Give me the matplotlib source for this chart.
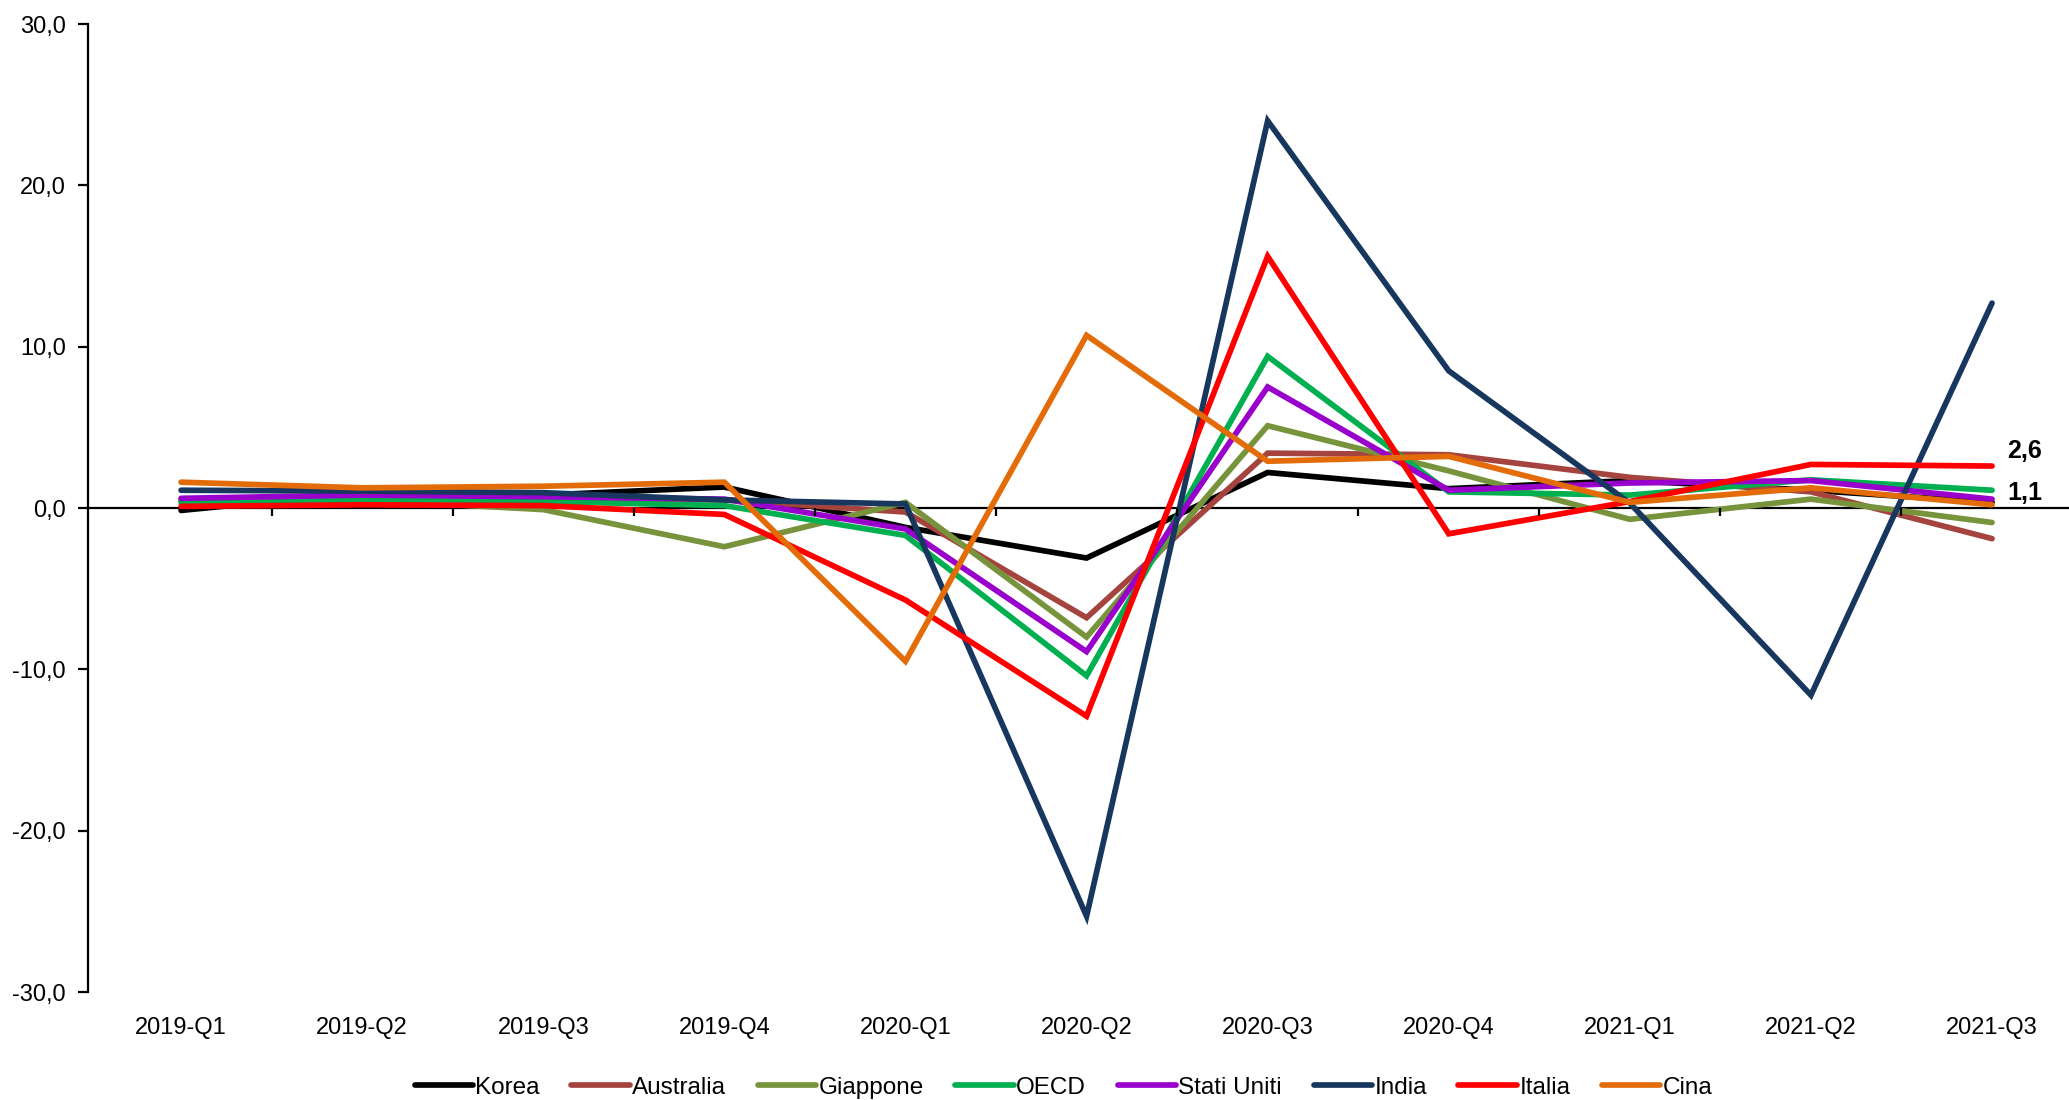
import matplotlib.pyplot as plt
import numpy as np

plt.rcParams['font.family'] = ['Liberation Sans', 'DejaVu Sans']

quarters = ["2019-Q1", "2019-Q2", "2019-Q3", "2019-Q4", "2020-Q1", "2020-Q2",
            "2020-Q3", "2020-Q4", "2021-Q1", "2021-Q2", "2021-Q3"]

korea      = [-0.15, 0.95, 0.8, 1.3, -1.2, -3.1, 2.2, 1.2, 1.7, 1.1, 0.35]
australia  = [0.5, 0.7, 0.6, 0.5, -0.25, -6.8, 3.4, 3.3, 1.9, 1.0, -1.9]
giappone   = [0.4, 0.5, -0.1, -2.4, 0.35, -8.0, 5.1, 2.3, -0.7, 0.55, -0.9]
oecd       = [0.35, 0.5, 0.4, 0.15, -1.7, -10.4, 9.4, 1.0, 0.8, 1.75, 1.1]
stati_uniti = [0.6, 0.8, 0.7, 0.55, -1.3, -8.9, 7.5, 1.1, 1.55, 1.7, 0.55]
india      = [1.1, 1.05, 0.95, 0.5, 0.25, -25.3, 24.0, 8.5, 0.3, -11.6, 12.7]
italia     = [0.1, 0.2, 0.15, -0.4, -5.7, -12.9, 15.6, -1.6, 0.4, 2.7, 2.6]
cina       = [1.6, 1.25, 1.35, 1.6, -9.5, 10.7, 2.9, 3.2, 0.35, 1.25, 0.2]

series = [
    ("Korea", korea, "#000000"),
    ("Australia", australia, "#A5443F"),
    ("Giappone", giappone, "#77933C"),
    ("OECD", oecd, "#00B050"),
    ("Stati Uniti", stati_uniti, "#9900CC"),
    ("India", india, "#17375E"),
    ("Italia", italia, "#FF0000"),
    ("Cina", cina, "#E36C09"),
]

fig = plt.figure(figsize=(20.69, 11), dpi=100)
ax = fig.add_axes([88 / 2069, 108 / 1100, 1 - 88 / 2069, 968 / 1100])

x = np.arange(len(quarters))
for name, vals, col in series:
    ax.plot(x, vals, color=col, lw=4.1, label=name, solid_capstyle='round',
            solid_joinstyle='miter')

# zero line with category separators
ax.axhline(0, color='black', lw=1.6, zorder=1)
ax.vlines(x[:-1] + 0.5, -0.5, 0, color='black', lw=1.6)

ax.set_xlim(-0.514, 10.425)
ax.set_ylim(-30, 30)
yt = np.arange(-30, 31, 10)
ax.set_yticks(yt)
ax.set_yticklabels([f"{v:.1f}".replace('.', ',') for v in yt], fontsize=17)
ax.set_xticks(x)
ax.set_xticklabels(quarters, fontsize=17)
ax.tick_params(axis='x', length=0, pad=18)
ax.tick_params(axis='y', direction='out', length=7, width=1.6, pad=9)

for s in ['top', 'right', 'bottom']:
    ax.spines[s].set_visible(False)
ax.spines['left'].set_linewidth(1.6)

# end labels
ax.annotate(f"{italia[-1]:.1f}".replace('.', ','), xy=(x[-1], italia[-1]),
            xytext=(11, 11), textcoords='offset points', fontsize=18,
            fontweight='bold', ha='left', va='center')
ax.annotate(f"{oecd[-1]:.1f}".replace('.', ','), xy=(x[-1], oecd[-1]),
            xytext=(11, -2), textcoords='offset points', fontsize=18,
            fontweight='bold', ha='left', va='center')

fig.legend(loc='center', bbox_to_anchor=(0.514, 0.011), ncol=8, frameon=False,
           fontsize=17.5, handlelength=2.4, handletextpad=0.1, columnspacing=1.3)

fig.savefig("out.png", dpi=100)
